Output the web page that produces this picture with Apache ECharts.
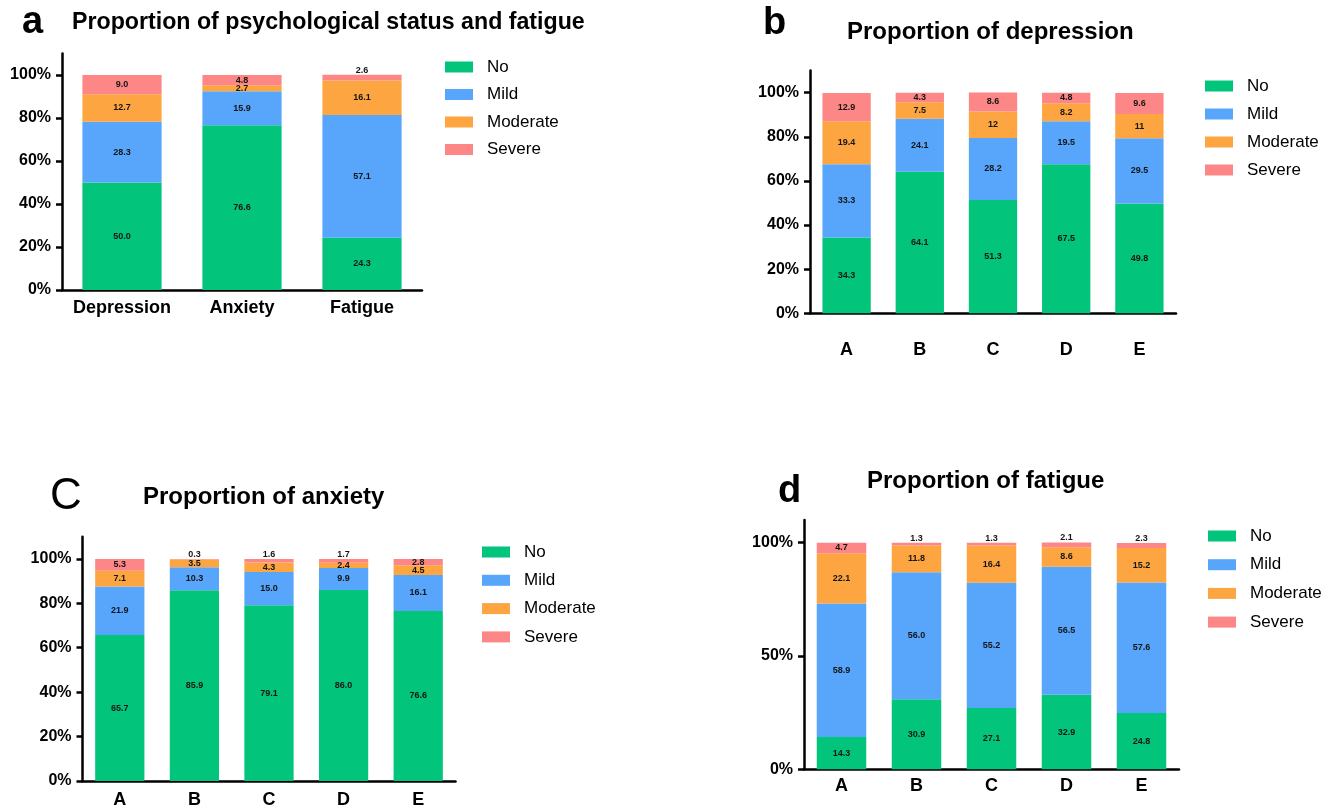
<!DOCTYPE html>
<html>
<head>
<meta charset="utf-8">
<title>Proportion charts</title>
<script src="https://cdn.jsdelivr.net/npm/echarts@6/dist/echarts.min.js"></script>
<style>
  html, body { margin: 0; padding: 0; background: #fff; }
  #chart { width: 1332px; height: 809px; }
</style>
</head>
<body>
<div id="chart"></div>
<script>
// levels (legend order)
const levels = ['No', 'Mild', 'Moderate', 'Severe']
const levelColors = ['#02C47B', '#57A6FB', '#FDA541', '#FD8686']

// panel a: overall
const catsA = ['Depression', 'Anxiety', 'Fatigue']
const aNo = [50.0, 76.6, 24.3]
const aMild = [28.3, 15.9, 57.1]
const aModerate = [12.7, 2.7, 16.1]
const aSevere = [9.0, 4.8, 2.6]

// panels b-d: groups
const groups = ['A', 'B', 'C', 'D', 'E']
// b: depression
const bNo = [34.3, 64.1, 51.3, 67.5, 49.8]
const bMild = [33.3, 24.1, 28.2, 19.5, 29.5]
const bModerate = [19.4, 7.5, 12, 8.2, 11]
const bSevere = [12.9, 4.3, 8.6, 4.8, 9.6]
// c: anxiety
const cNo = [65.7, 85.9, 79.1, 86.0, 76.6]
const cMild = [21.9, 10.3, 15.0, 9.9, 16.1]
const cModerate = [7.1, 3.5, 4.3, 2.4, 4.5]
const cSevere = [5.3, 0.3, 1.6, 1.7, 2.8]
// d: fatigue
const dNo = [14.3, 30.9, 27.1, 32.9, 24.8]
const dMild = [58.9, 56.0, 55.2, 56.5, 57.6]
const dModerate = [22.1, 11.8, 16.4, 8.6, 15.2]
const dSevere = [4.7, 1.3, 1.3, 2.1, 2.3]

// tick values
const ticks20 = [0, 20, 40, 60, 80, 100]
const ticks50 = [0, 50, 100]

const FONT = "'Liberation Sans', Arial, sans-serif"

const panels = [
  { cats: catsA, vals: [aNo, aMild, aModerate, aSevere], ticks: ticks20, fixed: true,
    grid: { left: 62, top: 53.5, width: 360, height: 236.5 }, labelMargin: 9 },
  { cats: groups, vals: [bNo, bMild, bModerate, bSevere], ticks: ticks20, fixed: false,
    grid: { left: 810, top: 70.6, width: 366, height: 242.7 }, labelMargin: 28 },
  { cats: groups, vals: [cNo, cMild, cModerate, cSevere], ticks: ticks20, fixed: true,
    grid: { left: 82.5, top: 536.7, width: 373, height: 248.3 }, labelMargin: 10 },
  { cats: groups, vals: [dNo, dMild, dModerate, dSevere], ticks: ticks50, fixed: true,
    grid: { left: 804, top: 520, width: 375, height: 249.3 }, labelMargin: 8 }
]

const axisLine = { lineStyle: { color: '#000', width: 2.5 } }
const axisTick = { length: 6, lineStyle: { color: '#000', width: 2.5 } }

const grids = []
const xAxes = []
const yAxes = []
const series = []

panels.forEach((p, pi) => {
  grids.push(p.grid)
  xAxes.push({
    type: 'category',
    gridIndex: pi,
    data: p.cats,
    axisLine: axisLine,
    axisTick: Object.assign({ alignWithLabel: true, interval: 0 }, axisTick),
    axisLabel: { interval: 0, color: '#000', fontFamily: FONT, fontWeight: 'bold', fontSize: 18, margin: p.labelMargin }
  })
  yAxes.push({
    type: 'value',
    gridIndex: pi,
    min: 0,
    max: 110,
    splitLine: { show: false },
    axisLine: { show: true, lineStyle: axisLine.lineStyle },
    axisTick: Object.assign({ show: true, customValues: p.ticks }, axisTick),
    axisLabel: {
      customValues: p.ticks,
      color: '#000', fontFamily: FONT, fontWeight: 'bold', fontSize: 16, margin: 11,
      formatter: v => v + '%'
    }
  })
  levels.forEach((lv, li) => {
    series.push({
      name: lv,
      type: 'bar',
      xAxisIndex: pi,
      yAxisIndex: pi,
      stack: 'p' + pi,
      barWidth: '66%',
      itemStyle: { color: levelColors[li] },
      label: {
        show: true,
        position: 'inside',
        color: '#151515',
        fontFamily: FONT,
        fontWeight: 'bold',
        fontSize: 9,
        formatter: prm => p.fixed ? prm.value.toFixed(1) : String(prm.value)
      },
      data: p.vals[li].map(v => {
        if (li === 3 && v < 2.7) {
          return { value: v, label: { position: 'top', distance: 0 } }
        }
        return v
      })
    })
  })
})

const titleStyle = { color: '#000', fontFamily: FONT, fontWeight: 'bold', fontSize: 24 }
const letterStyle = { color: '#000', fontFamily: FONT, fontWeight: 'bold', fontSize: 38 }

const titles = [
  { text: 'a', left: 22, top: 4, textStyle: letterStyle },
  { text: 'Proportion of psychological status and fatigue', left: 72, top: 11,
    textStyle: Object.assign({}, titleStyle, { fontSize: 23.2 }) },
  { text: 'b', left: 763, top: 5, textStyle: letterStyle },
  { text: 'Proportion of depression', left: 847, top: 20, textStyle: titleStyle },
  { text: 'C', left: 50, top: 475, textStyle: { color: '#000', fontFamily: FONT, fontWeight: 'normal', fontSize: 44 } },
  { text: 'Proportion of anxiety', left: 143, top: 485, textStyle: titleStyle },
  { text: 'd', left: 778, top: 473, textStyle: letterStyle },
  { text: 'Proportion of fatigue', left: 867, top: 469, textStyle: titleStyle }
].map(t => Object.assign({ padding: 0 }, t))

const legendPos = [
  { left: 445, top: 58.5, itemGap: 10.5 },
  { left: 1205, top: 77.5, itemGap: 11 },
  { left: 482, top: 543.5, itemGap: 11.3 },
  { left: 1208, top: 527.5, itemGap: 11.7 }
]
const legends = legendPos.map(lp => Object.assign({
  orient: 'vertical',
  data: levels,
  icon: 'rect',
  itemWidth: 28,
  itemHeight: 11,
  padding: 0,
  selectedMode: false,
  textStyle: { color: '#000', fontFamily: FONT, fontSize: 17, lineHeight: 17, padding: [0, 0, 0, 9] }
}, lp))

const chart = echarts.init(document.getElementById('chart'), null, { renderer: 'canvas' })
chart.setOption({
  animation: false,
  backgroundColor: '#fff',
  title: titles,
  legend: legends,
  grid: grids,
  xAxis: xAxes,
  yAxis: yAxes,
  series: series
})
</script>
</body>
</html>
